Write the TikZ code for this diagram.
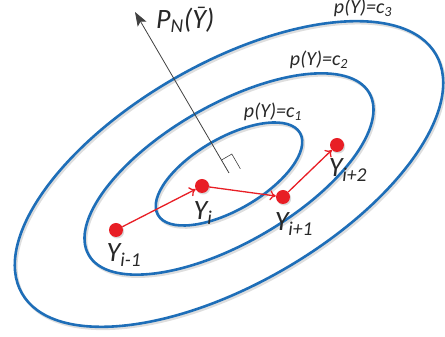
\documentclass[tikz,border=0pt]{standalone}
\usepackage{fontspec}
\setmainfont{Carlito}
\usetikzlibrary{arrows.meta,calc}
\definecolor{eblue}{RGB}{30,110,184}
\definecolor{ered}{RGB}{232,30,37}
\definecolor{egray}{RGB}{64,64,64}
\definecolor{etext}{RGB}{40,40,40}
\begin{document}
\begin{tikzpicture}[x=1pt,y=1pt,
  contour/.style={draw=eblue,line width=2.6pt},
  contourshadow/.style={draw=black!13,line width=2.6pt},
  dot/.style={circle,fill=ered,minimum size=14pt,inner sep=0pt},
  dotshadow/.style={circle,fill=black!15,minimum size=14pt,inner sep=0pt},
  move/.style={draw=ered,line width=1.3pt,-{To[length=6pt,width=10pt]}},
  lbl/.style={font=\itshape\fontsize{28}{28}\selectfont,text=etext,inner sep=0pt},
  clbl/.style={font=\itshape\fontsize{20}{20}\selectfont,text=etext,inner sep=0pt}]
\useasboundingbox (0,0) rectangle (445,337);
\coordinate (C) at (229,163);
\coordinate (Cs) at (230.5,161);
\foreach \a/\b in {82/36,162/69,239/110}{
  \draw[contourshadow,rotate around={30:(Cs)}] (Cs) ellipse (\a pt and \b pt);
  \draw[contour,rotate around={30:(C)}] (C) ellipse (\a pt and \b pt);
}
% normal vector
\coordinate (B) at (229,164);
\coordinate (T) at (135,325);
\draw[egray,line width=0.8pt,-{Stealth[length=14pt,width=10pt,inset=3pt]}] (B) -- (T);
\draw[egray,line width=0.6pt] ($(B)!15pt!(T)$) -- ++(30:12) -- ++(-60:17);
% points
\foreach \x/\y in {116/107,202/151,283/140,337/192}{
  \node[dotshadow] at (\x+1.2,\y-1.5) {};
}
\node[dot] (a) at (116,107) {};
\node[dot] (b) at (202,151) {};
\node[dot] (c) at (283,140) {};
\node[dot] (d) at (337,192) {};
\draw[move] (a) -- (b);
\draw[move] (b) -- (c);
\draw[move] (c) -- (d);
% labels
\node[lbl] (la) at (124,82) {Y\textsubscript{i-1}};
\node[lbl] (lb) at (203,124) {Y\textsubscript{i}};
\node[lbl] (lc) at (294,113) {Y\textsubscript{i+1}};
\node[lbl] (ld) at (348,167) {Y\textsubscript{i+2}};
\node[lbl,anchor=west] (pn) at (156,317) {P\textsubscript{N}(Ȳ)};
\node[clbl] (c3) at (363,329) {p(Y)=c\textsubscript{3}};
\node[clbl] (c2) at (319,277) {p(Y)=c\textsubscript{2}};
\node[clbl] (c1) at (273,225) {p(Y)=c\textsubscript{1}};
\end{tikzpicture}
\end{document}
